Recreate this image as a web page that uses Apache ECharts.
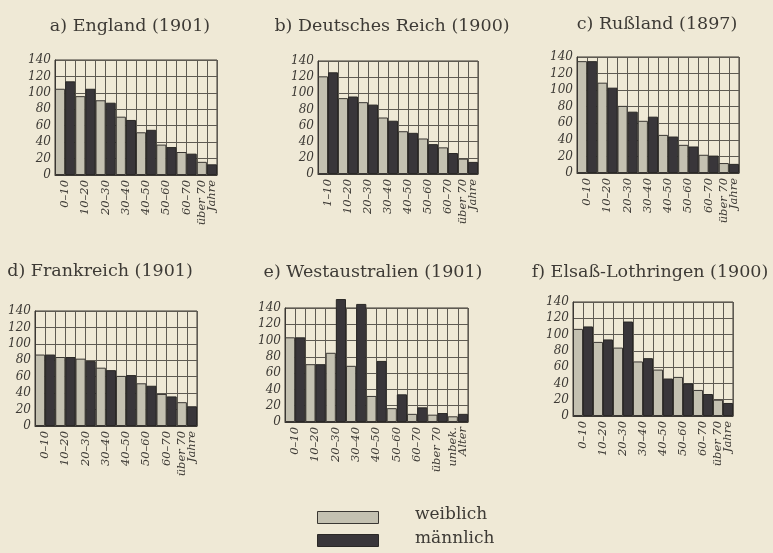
<!DOCTYPE html>
<html><head><meta charset="utf-8">
<script src="https://cdn.jsdelivr.net/npm/echarts@6/dist/echarts.min.js"></script>
<style>html,body{margin:0;padding:0;background:#efe9d6;}#c{width:773px;height:553px;}</style>
</head><body><div id="c"></div>
<script>
const titles = ['a) England (1901)','b) Deutsches Reich (1900)','c) Rußland (1897)','d) Frankreich (1901)','e) Westaustralien (1901)','f) Elsaß-Lothringen (1900)'];
const catsStd = ['0–10','10–20','20–30','30–40','40–50','50–60','60–70','über 70\nJahre'];
const catsReich = ['1–10','10–20','20–30','30–40','40–50','50–60','60–70','über 70\nJahre'];
const catsWest = ['0–10','10–20','20–30','30–40','40–50','50–60','60–70','über 70','unbek.\nAlter'];
const legendNames = ['weiblich','männlich'];
const englandW = [105,96,91,71,52,37,28,16];
const englandM = [114,105,88,67,55,34,26,13];
const reichW = [121,94,89,70,53,44,33,19];
const reichM = [126,96,86,66,51,37,26,15];
const russW = [135,109,81,63,46,34,22,12];
const russM = [135,103,74,68,44,32,21,11];
const frankW = [87,84,82,71,61,52,39,29];
const frankM = [87,84,79,68,62,49,36,24];
const westW = [104,71,85,69,32,17,10,9,7];
const westM = [104,71,151,145,75,34,18,11,10];
const elsassW = [107,91,84,67,57,48,32,20];
const elsassM = [110,94,116,71,46,40,27,16];

const panels = [
  {cats: catsStd, w: englandW, m: englandM},
  {cats: catsReich, w: reichW, m: reichM},
  {cats: catsStd, w: russW, m: russM},
  {cats: catsStd, w: frankW, m: frankM},
  {cats: catsWest, w: westW, m: westM},
  {cats: catsStd, w: elsassW, m: elsassM}
];
const gridPos = [
  [55,60,162,115],[318,61,160,113],[577,57,162,116],
  [35,311,162,115],[285,308,183,114],[573,302,160,114]
];
const titlePos = [[125,12],[387,12],[652,10],[95,257],[368,258],[645,258]];

const serif = '"DejaVu Serif", serif';
const textCol = '#3d3a35';
const lineCol = '#5e5a52';
const lightCol = '#c4c1b1';
const darkCol = '#39363a';

const option = {
  backgroundColor: '#efe9d6',
  animation: false,
  title: titles.map((t,i)=>({text:t,left:titlePos[i][0],top:titlePos[i][1],textAlign:'center',
    textStyle:{fontFamily:serif,fontWeight:'normal',fontSize:17.5,color:textCol}})),
  grid: gridPos.map(g=>({left:g[0],top:g[1],width:g[2],height:g[3],show:true,borderColor:'#3a3733',borderWidth:1})),
  graphic: [
    {type:'rect',left:317,top:511,shape:{width:61,height:12},style:{fill:lightCol,stroke:'#3a3733',lineWidth:1}},
    {type:'rect',left:317,top:534,shape:{width:61,height:12},style:{fill:darkCol,stroke:'#2a2826',lineWidth:1}},
    {type:'text',left:415,top:506,style:{text:legendNames[0],font:'17px "DejaVu Serif", serif',fill:textCol}},
    {type:'text',left:415,top:530,style:{text:legendNames[1],font:'17px "DejaVu Serif", serif',fill:textCol}}
  ],
  xAxis: [], yAxis: [], series: []
};
panels.forEach((p,i)=>{
  option.xAxis.push({type:'category',gridIndex:i,data:p.cats,boundaryGap:true,
    axisLine:{show:true,lineStyle:{color:'#3a3733'}},axisTick:{show:false},splitLine:{show:false},
    axisLabel:{rotate:90,interval:0,fontFamily:serif,fontStyle:'italic',fontSize:11.5,color:textCol,margin:5,lineHeight:10}});
  const helper = [];
  for(let k=0;k<p.cats.length*2;k++) helper.push(String(k));
  option.xAxis.push({type:'category',gridIndex:i,data:helper,boundaryGap:true,show:true,position:'bottom',
    axisLine:{show:false},axisTick:{show:false,interval:0},axisLabel:{show:false,interval:0},
    splitLine:{show:true,interval:0,lineStyle:{color:lineCol,width:1}}});
  option.yAxis.push({type:'value',gridIndex:i,min:0,max:140,interval:20,
    axisLine:{show:true,lineStyle:{color:'#3a3733'}},axisTick:{show:false},
    splitLine:{show:true,lineStyle:{color:lineCol,width:1}},
    axisLabel:{fontFamily:serif,fontStyle:'italic',fontSize:12,color:textCol,margin:4}});
  option.series.push({name:legendNames[0],type:'bar',xAxisIndex:2*i,yAxisIndex:i,data:p.w,
    barGap:'0%',barCategoryGap:'0%',clip:false,
    itemStyle:{color:lightCol,borderColor:'#3a3733',borderWidth:1}});
  option.series.push({name:legendNames[1],type:'bar',xAxisIndex:2*i,yAxisIndex:i,data:p.m,
    barGap:'0%',barCategoryGap:'0%',clip:false,
    itemStyle:{color:darkCol,borderColor:'#2a2826',borderWidth:1}});
});
const chart = echarts.init(document.getElementById('c'),null,{renderer:'canvas'});
chart.setOption(option);
</script></body></html>
